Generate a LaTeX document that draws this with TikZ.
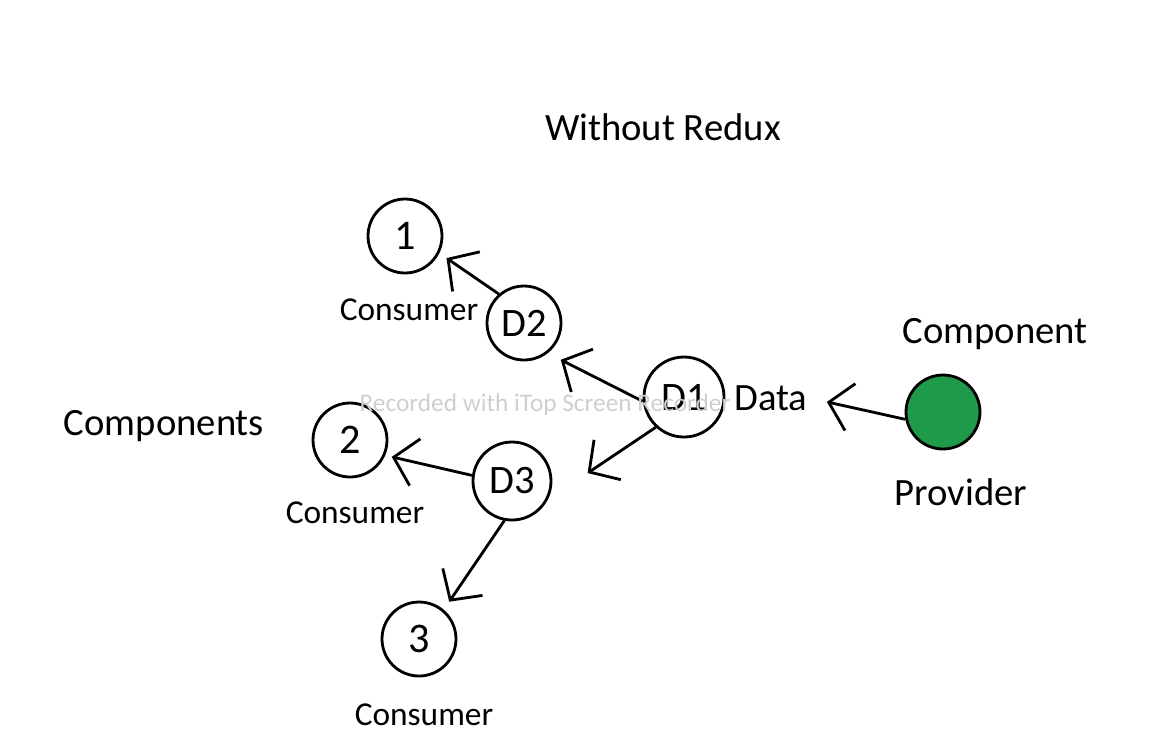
\documentclass[tikz,border=0pt]{standalone}
\usepackage{fontspec}
\setmainfont{Carlito}
\usetikzlibrary{arrows.meta}
\definecolor{provGreen}{HTML}{1F9A4A}
\definecolor{markGray}{HTML}{CFCFCF}

\begin{document}
\begin{tikzpicture}[
    every node/.style={font=\fontsize{11}{13}\selectfont},
    comp/.style={draw,circle,line width=.8pt,inner sep=0pt,minimum size=.74cm,
      font=\fontsize{12}{14}\selectfont},
    dcomp/.style={comp,minimum size=.78cm,font=\fontsize{11.5}{13}\selectfont},
    prov/.style={comp,fill=provGreen},
    lbl/.style={font=\fontsize{9.5}{11}\selectfont},
    flow/.style={line width=.8pt,-{Straight Barb[length=2.2mm,width=4.8mm]}}]
  \useasboundingbox (0,0) rectangle (11.63,-7.32);
  % title
  \node (title) at (6.63,-1.27) {Without Redux};
  % consumers
  \node[comp] (c1) at (4.05,-2.36) {1};
  \node[comp] (c2) at (3.50,-4.40) {2};
  \node[comp] (c3) at (4.19,-6.39) {3};
  \node[lbl] (l1) at (4.09,-3.10) {Consumer};
  \node[lbl] (l2) at (3.55,-5.13) {Consumer};
  \node[lbl] (l3) at (4.24,-7.15) {Consumer};
  \node (comps) at (1.64,-4.26) {Components};
  % data passing
  \node[dcomp,minimum size=.8cm] (d1) at (6.84,-3.97) {D1};
  \node[dcomp,minimum size=.74cm] (d2) at (5.24,-3.23) {D2};
  \node[dcomp] (d3) at (5.12,-4.81) {D3};
  \node (data) at (7.71,-3.98) {Data};
  % provider
  \node[prov] (prov) at (9.43,-4.12) {};
  \node (provc) at (9.95,-3.34) {Component};
  \node (provl) at (9.61,-4.92) {Provider};
  % arrows
  \draw[flow] (d2.131) -- ([shift={(332:.47)}]c1.center);
  \draw[flow] (d1.186) -- ([shift={(315:.52)}]d2.center);
  \draw[flow] (d1.227) -- ([shift={(6:.76)}]d3.center);
  \draw[flow] (d3.172) -- ([shift={(338:.45)}]c2.center);
  \draw[flow] (d3.259) -- ([shift={(51:.48)}]c3.center);
  \draw[flow] (prov.191) -- ([shift={(356:.56)}]data.center);
  % recorder mark
  \node[text=markGray,font=\fontsize{7.2}{9}\selectfont] (mark) at (5.45,-4.05) {Recorded with iTop Screen Recorder};
\end{tikzpicture}
\end{document}
